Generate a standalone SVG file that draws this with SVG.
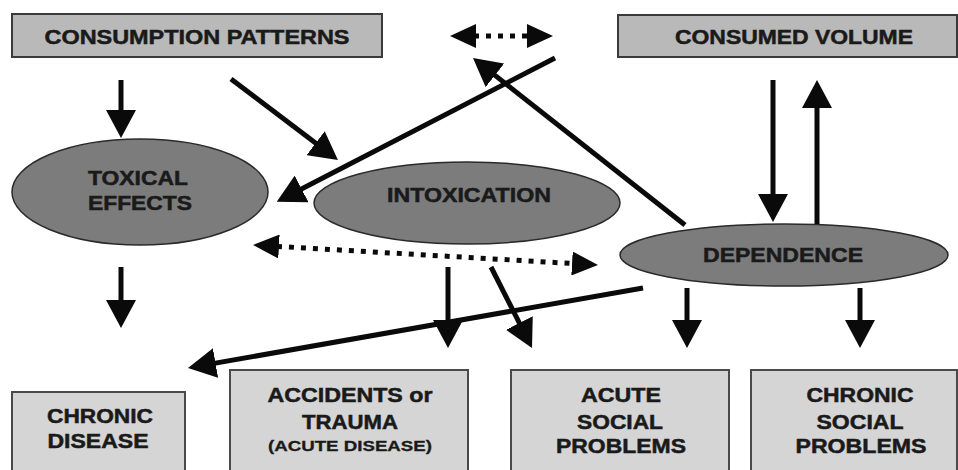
<svg xmlns="http://www.w3.org/2000/svg" width="958" height="470" viewBox="0 0 958 470">
<style>
.box1{fill:#b9b9b9;stroke:#3a3a3a;stroke-width:2}
.box2{fill:#d5d5d5;stroke:#4a4a4a;stroke-width:2}
.ell{fill:#7c7c7c;stroke:#2a2a2a;stroke-width:1.5}
.t{font-family:"Liberation Sans",Arial,sans-serif;font-weight:bold;font-size:20px;fill:#1a1a1a;stroke:#1a1a1a;stroke-width:0.5;text-anchor:middle}
.ts{font-family:"Liberation Sans",Arial,sans-serif;font-weight:bold;font-size:15px;fill:#1a1a1a;stroke:#1a1a1a;stroke-width:0.3;text-anchor:middle}
.a{stroke:#0a0a0a;stroke-width:5;fill:none;marker-end:url(#ah)}
.d{stroke:#0a0a0a;stroke-width:5;fill:none;stroke-dasharray:5 7;marker-start:url(#dh);marker-end:url(#dh)}
</style>
<defs>
<marker id="ah" markerUnits="userSpaceOnUse" viewBox="0 0 28 30" refX="16" refY="15" markerWidth="28" markerHeight="30" orient="auto">
<path d="M0,0 L28,15 L0,30 Z" fill="#0a0a0a"/>
</marker>
<marker id="dh" markerUnits="userSpaceOnUse" viewBox="0 0 26 24" refX="14" refY="12" markerWidth="26" markerHeight="24" orient="auto-start-reverse">
<path d="M0,0 L26,12 L0,24 Z" fill="#0a0a0a"/>
</marker>
</defs>

<g id="consumption-patterns">
<rect class="box1" x="12" y="14" width="370" height="43"/>
<text class="t" x="197" y="44" textLength="305" lengthAdjust="spacingAndGlyphs">CONSUMPTION PATTERNS</text>
</g>
<g id="consumed-volume">
<rect class="box1" x="618" y="15" width="339" height="42"/>
<text class="t" x="794" y="44" textLength="238" lengthAdjust="spacingAndGlyphs">CONSUMED VOLUME</text>
</g>
<g id="toxical-effects">
<ellipse class="ell" cx="140" cy="192" rx="128" ry="53"/>
<text class="t" x="138" y="185" textLength="100" lengthAdjust="spacingAndGlyphs">TOXICAL</text>
<text class="t" x="140" y="210" textLength="104" lengthAdjust="spacingAndGlyphs">EFFECTS</text>
</g>
<g id="intoxication">
<ellipse class="ell" cx="467" cy="203" rx="153" ry="41"/>
<text class="t" x="469" y="202" textLength="164" lengthAdjust="spacingAndGlyphs">INTOXICATION</text>
</g>
<g id="dependence">
<ellipse class="ell" cx="784" cy="255" rx="164" ry="31"/>
<text class="t" x="783" y="262" textLength="160" lengthAdjust="spacingAndGlyphs">DEPENDENCE</text>
</g>
<g id="chronic-disease">
<rect class="box2" x="12" y="392" width="173" height="85"/>
<text class="t" x="100" y="423" textLength="106" lengthAdjust="spacingAndGlyphs">CHRONIC</text>
<text class="t" x="98" y="448" textLength="101" lengthAdjust="spacingAndGlyphs">DISEASE</text>
</g>
<g id="accidents-trauma">
<rect class="box2" x="230" y="370" width="238" height="107"/>
<text class="t" x="350" y="402" textLength="165" lengthAdjust="spacingAndGlyphs">ACCIDENTS or</text>
<text class="t" x="350" y="429" textLength="96" lengthAdjust="spacingAndGlyphs">TRAUMA</text>
<text class="ts" x="350" y="451" textLength="164" lengthAdjust="spacingAndGlyphs">(ACUTE DISEASE)</text>
</g>
<g id="acute-social-problems">
<rect class="box2" x="511" y="370" width="218" height="107"/>
<text class="t" x="621" y="402" textLength="80" lengthAdjust="spacingAndGlyphs">ACUTE</text>
<text class="t" x="620" y="429" textLength="86" lengthAdjust="spacingAndGlyphs">SOCIAL</text>
<text class="t" x="621" y="453" textLength="130" lengthAdjust="spacingAndGlyphs">PROBLEMS</text>
</g>
<g id="chronic-social-problems">
<rect class="box2" x="751" y="370" width="206" height="107"/>
<text class="t" x="860" y="402" textLength="107" lengthAdjust="spacingAndGlyphs">CHRONIC</text>
<text class="t" x="860" y="429" textLength="87" lengthAdjust="spacingAndGlyphs">SOCIAL</text>
<text class="t" x="861" y="453" textLength="131" lengthAdjust="spacingAndGlyphs">PROBLEMS</text>
</g>

<g id="connectors">
<line class="a" x1="121" y1="80" x2="121" y2="126"/>
<line class="a" x1="231" y1="79" x2="328.4" y2="152.8"/>
<line class="a" x1="555" y1="58" x2="287.4" y2="196.3"/>
<line class="a" x1="685" y1="225" x2="482.4" y2="65.4"/>
<line class="a" x1="773" y1="80" x2="773" y2="210"/>
<line class="a" x1="817" y1="224" x2="817" y2="92"/>
<line class="a" x1="121" y1="267" x2="121" y2="316"/>
<line class="a" x1="448" y1="267" x2="448" y2="336"/>
<line class="a" x1="491" y1="267" x2="526.6" y2="337.3"/>
<line class="a" x1="687" y1="288" x2="687" y2="336"/>
<line class="a" x1="860" y1="288" x2="860" y2="336"/>
<line class="a" x1="643" y1="288" x2="199.8" y2="365.9"/>
<line class="d" x1="462" y1="36" x2="541" y2="36"/>
<line class="d" x1="265" y1="245.7" x2="586" y2="264.3"/>
</g>
</svg>
